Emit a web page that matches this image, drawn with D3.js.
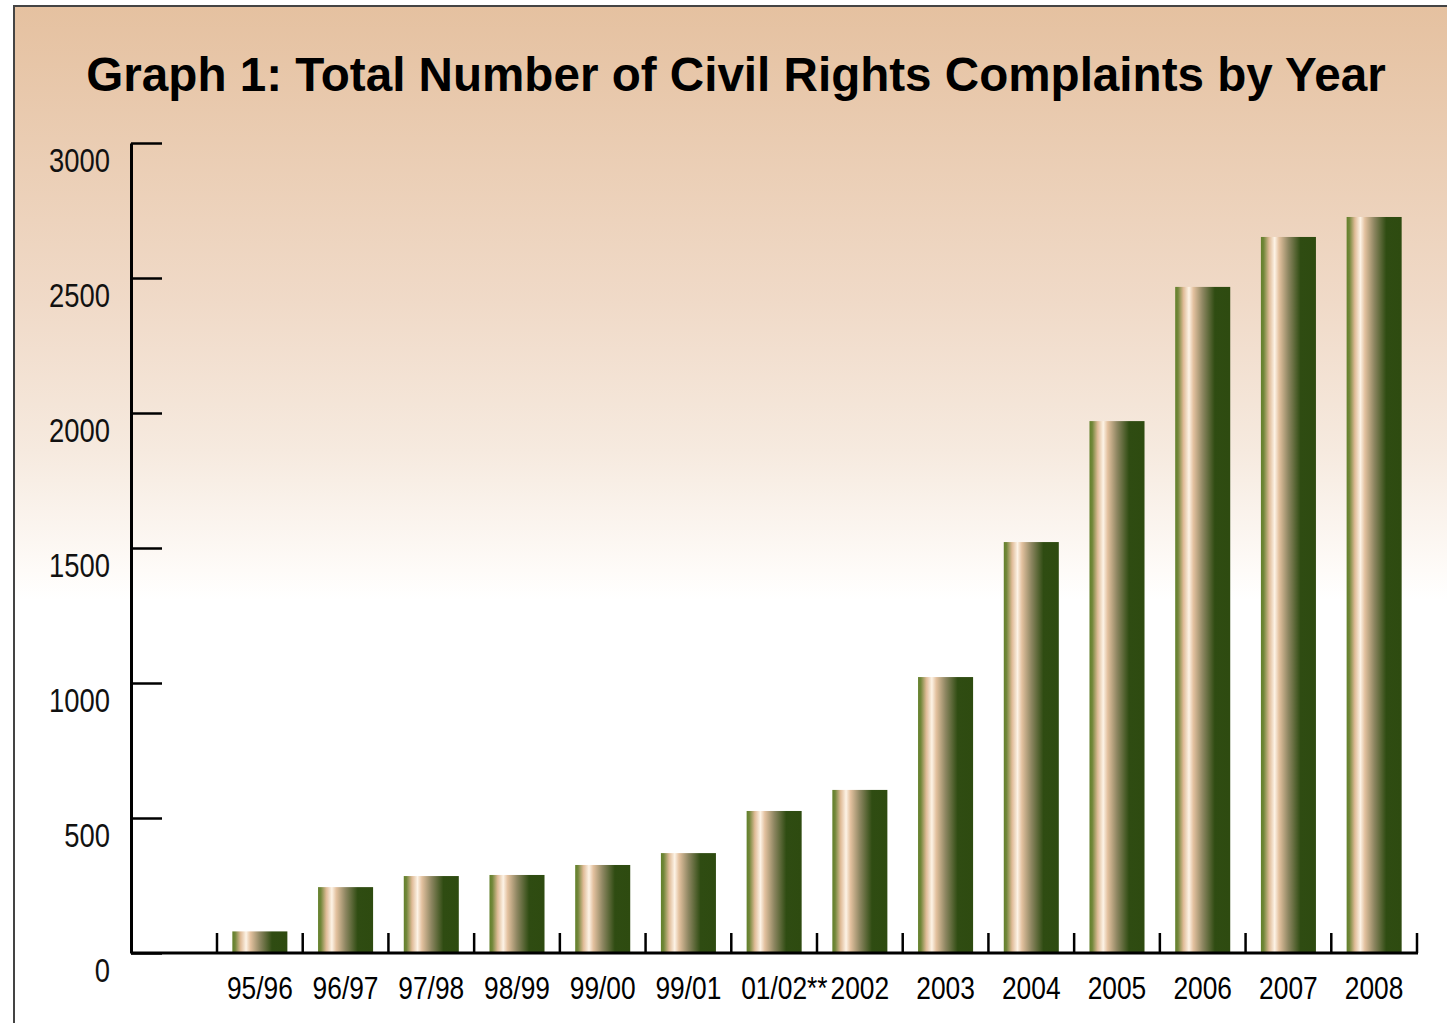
<!DOCTYPE html>
<html>

<head>
  <meta charset="utf-8">
  <title>Graph 1</title>
  <style>
    body { margin: 0; background: #fff; }
  </style>
</head>

<body>

  <script src="https://cdnjs.cloudflare.com/ajax/libs/d3/7.8.5/d3.min.js" charset="utf-8"></script>
  <script type="text/javascript">
    // data
    var years = ["95/96", "96/97", "97/98", "98/99", "99/00", "99/01", "01/02**", "2002",
      "2003", "2004", "2005", "2006", "2007", "2008"];
    var complaints = [80, 244, 285, 289, 326, 370, 526, 604, 1022, 1522, 1970, 2467, 2652, 2726];
    var yTicks = [0, 500, 1000, 1500, 2000, 2500, 3000];
    var title = "Graph 1: Total Number of Civil Rights Complaints by Year";

    var width = 1447;
    var height = 1023;
    var narrow = 0.85; // horizontal squeeze to fake a condensed face

    var svg = d3.select("body")
      .append("svg")
      .attr("width", width)
      .attr("height", height);

    var defs = svg.append("defs");

    var bg = defs.append("linearGradient")
      .attr("id", "bg")
      .attr("gradientUnits", "userSpaceOnUse")
      .attr("x1", 0).attr("y1", 6)
      .attr("x2", 0).attr("y2", 600);
    [[0, "#e5c1a0"], [0.5, "#f0dac8"], [0.75, "#f6eadf"], [0.95, "#fefbf8"], [1, "#ffffff"]]
      .forEach(function(s) {
        bg.append("stop").attr("offset", s[0]).attr("stop-color", s[1]);
      });

    var barGrad = defs.append("linearGradient")
      .attr("id", "bar")
      .attr("x1", 0).attr("y1", 0)
      .attr("x2", 1).attr("y2", 0);
    [[0, "#62802a"], [0.05, "#72873a"], [0.15, "#dfbb97"], [0.25, "#fdf3e6"], [0.33, "#e3c19f"],
      [0.5, "#8d8661"], [0.72, "#2f4c12"], [1, "#2e4b10"]]
      .forEach(function(s) {
        barGrad.append("stop").attr("offset", s[0]).attr("stop-color", s[1]);
      });

    // frame + background
    svg.append("rect")
      .attr("x", 14)
      .attr("y", 6)
      .attr("width", 1460)
      .attr("height", 1040)
      .attr("fill", "url(#bg)")
      .attr("stroke", "#444")
      .attr("stroke-width", 2);

    svg.append("text")
      .attr("x", 736)
      .attr("y", 91)
      .attr("text-anchor", "middle")
      .attr("font-family", "Liberation Sans, Arial, sans-serif")
      .attr("font-weight", "bold")
      .attr("font-size", 47.6)
      .attr("fill", "#000")
      .text(title);

    var x0 = 131;
    var x = d3.scaleBand()
      .domain(years)
      .range([217, 1417])
      .paddingInner(0.358)
      .paddingOuter(0.179);

    var y = d3.scaleLinear()
      .domain([0, 3000])
      .range([953, 143]);

    // y axis: ticks point inward, labels sit below their tick
    var yAxis = svg.append("g")
      .attr("transform", "translate(" + x0 + ",0)")
      .call(d3.axisLeft(y).tickValues(yTicks).tickFormat(d3.format("d"))
        .tickSize(-31).tickSizeOuter(0).tickPadding(21));
    yAxis.select(".domain").attr("stroke", "#000").attr("stroke-width", 3);
    yAxis.selectAll(".tick line").attr("stroke", "#000").attr("stroke-width", 2.5);
    yAxis.selectAll(".tick text")
      .attr("x", null)
      .attr("dy", 0)
      .attr("transform", "translate(-21,28) scale(" + (narrow - 0.02) + ",1)")
      .attr("fill", "#111")
      .attr("font-family", "Liberation Sans, Arial, sans-serif")
      .attr("font-size", 33);

    // bars
    svg.selectAll(".bar")
      .data(complaints)
      .enter().append("rect")
      .attr("class", "bar")
      .attr("x", function(d, i) { return x(years[i]); })
      .attr("y", function(d) { return y(d); })
      .attr("width", x.bandwidth())
      .attr("height", function(d) { return y(0) - y(d); })
      .attr("fill", "url(#bar)");

    // x axis line and boundary ticks
    svg.append("line")
      .attr("x1", x0).attr("x2", x.range()[1] + 1)
      .attr("y1", y(0)).attr("y2", y(0))
      .attr("stroke", "#000")
      .attr("stroke-width", 3);

    var bounds = d3.range(years.length + 1).map(function(i) {
      return x.range()[0] + i * x.step();
    });
    svg.selectAll(".xtick")
      .data(bounds)
      .enter().append("line")
      .attr("class", "xtick")
      .attr("x1", function(d) { return d; })
      .attr("x2", function(d) { return d; })
      .attr("y1", y(0) - 20)
      .attr("y2", y(0))
      .attr("stroke", "#000")
      .attr("stroke-width", 2.5);

    // x labels: centre on the label without its footnote marks
    var labels = svg.selectAll(".xlab")
      .data(years)
      .enter().append("text")
      .attr("class", "xlab")
      .attr("font-family", "Liberation Sans, Arial, sans-serif")
      .attr("font-size", 31)
      .attr("fill", "#000")
      .text(function(d) { return d; });

    labels.each(function(d) {
      var el = d3.select(this);
      var base = d.replace(/\*+$/, "");
      el.text(base);
      var w = this.getComputedTextLength() * narrow;
      el.text(d);
      var left = x(d) + x.bandwidth() / 2 - w / 2;
      el.attr("transform", "translate(" + left + ",999) scale(" + narrow + ",1)");
    });
  </script>
</body>

</html>
